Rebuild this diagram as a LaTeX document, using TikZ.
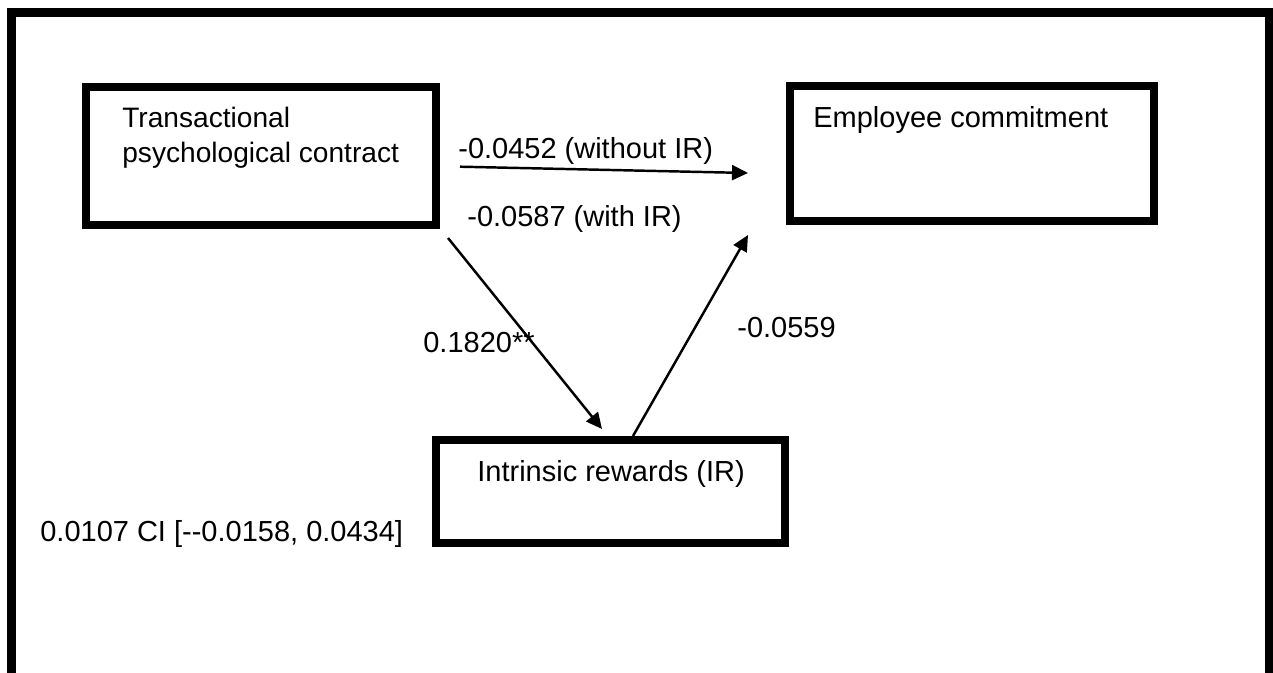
\documentclass[tikz,border=0pt]{standalone}
\usepackage{fontspec}
\setmainfont{Liberation Sans}
\usetikzlibrary{arrows.meta}

\begin{document}
\begin{tikzpicture}[
        box/.style={draw, line width=4.5pt, outer sep=0pt, inner sep=0pt},
        lbl/.style={inner sep=0pt, anchor=base west, font=\fontsize{16.5}{19}\selectfont},
        arr/.style={-{Triangle[length=0.32cm, width=0.3cm]}, line width=1.4pt}
    ]
        \useasboundingbox (0, 0) rectangle (25.46, -13.46);
        \clip (0, 0) rectangle (25.46, -13.46);
        % frame, open at the bottom
        \draw[line width=5.1pt] (0.23, -14) -- (0.23, -0.25) -- (25.39, -0.25) -- (25.39, -14);
        % boxes
        \node[box, minimum width=7cm, minimum height=2.76cm] (tpc) at (5.22, -3.12) {};
        \node[box, minimum width=7.28cm, minimum height=2.7cm] (ec) at (19.44, -3.07) {};
        \node[box, minimum width=6.98cm, minimum height=2.06cm] (ir) at (12.21, -9.83) {};
        \node[lbl, align=left, font=\fontsize{16}{20}\selectfont] (tpclabel) at (2.44, -3.26) {Transactional\\psychological contract};
        \node[lbl] (eclabel) at (16.26, -2.56) {Employee commitment};
        \node[lbl] (irlabel) at (9.54, -9.63) {Intrinsic rewards (IR)};
        % paths
        \draw[arr] ([shift={(0.48, -0.214)}]tpc.east) -- ([shift={(-0.84, -0.39)}]ec.west);
        \draw[arr] ([shift={(0.24, -0.26)}]tpc.south east) -- ([shift={(-0.17, 0.22)}]ir.north);
        \draw[arr] ([shift={(0.45, 0.08)}]ir.north) -- ([shift={(-0.84, -0.28)}]ec.south west);
        \node[lbl] (without) at (9.16, -3.166) {-0.0452 (without IR)};
        \node[lbl] (with) at (9.34, -4.54) {-0.0587 (with IR)};
        \node[lbl] (tpcir) at (8.46, -7.06) {0.1820**};
        \node[lbl] (irec) at (14.74, -6.76) {-0.0559};
        \node[lbl] (ci) at (0.8, -10.83) {0.0107 CI [-{}-0.0158, 0.0434]};
    \end{tikzpicture}
\end{document}
